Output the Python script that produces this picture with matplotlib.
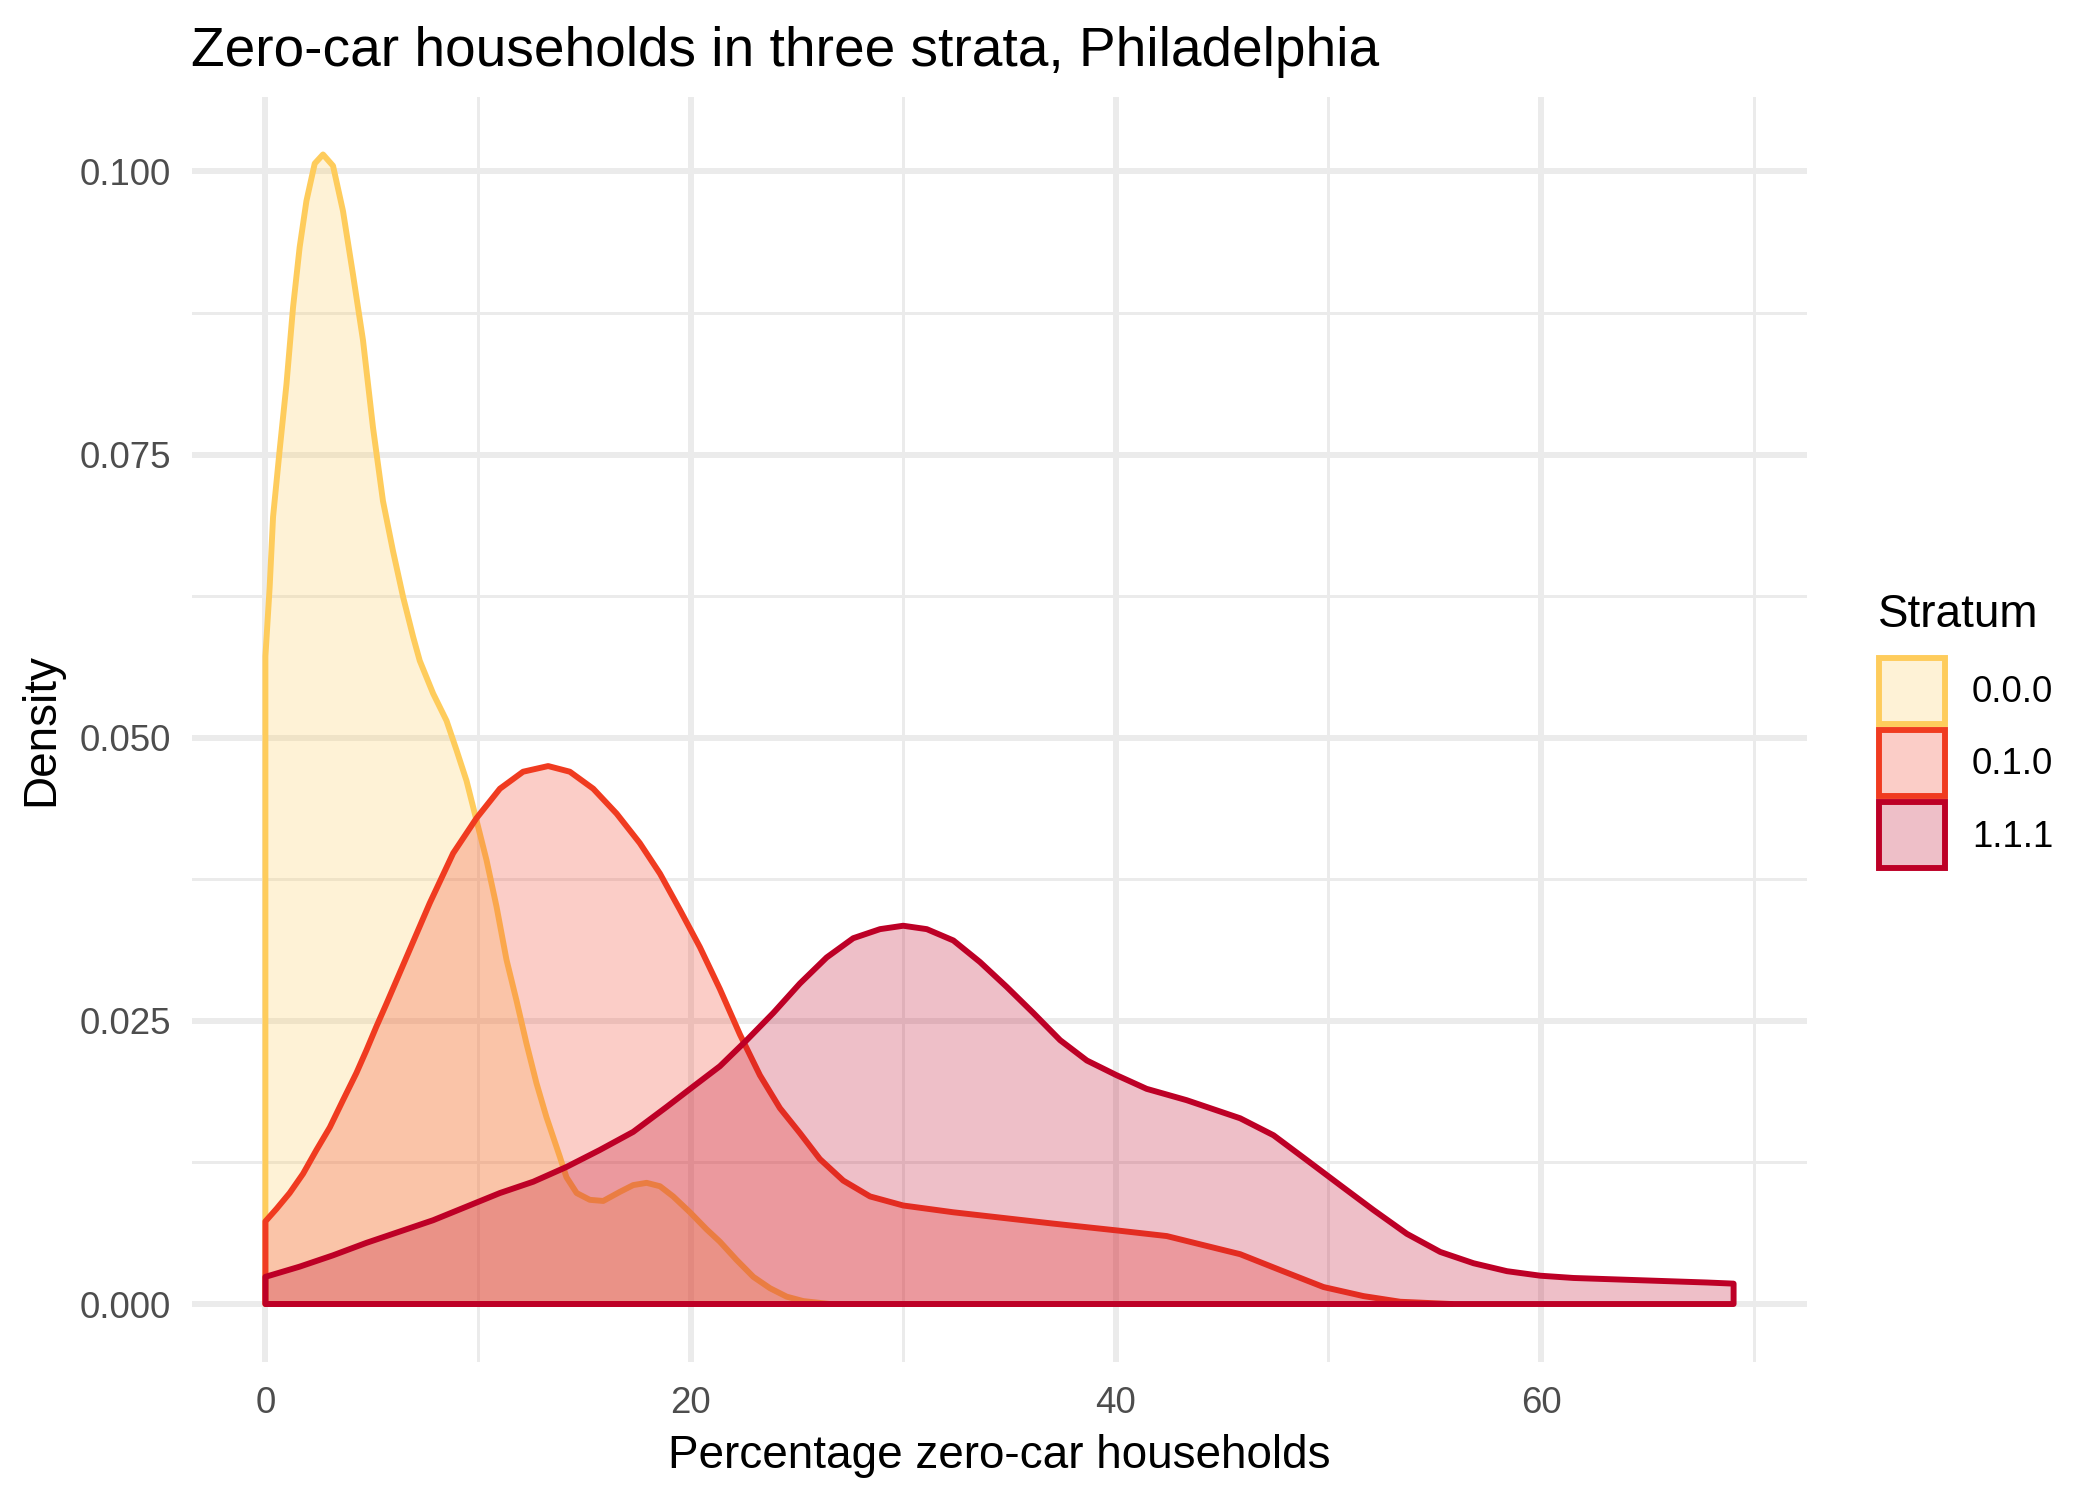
import matplotlib
matplotlib.use("Agg")
import matplotlib.pyplot as plt
from matplotlib.patches import Rectangle

plt.rcParams['font.family'] = ['Liberation Sans', 'DejaVu Sans']

# Density curves (x = % zero-car households, y = density)
x_000 = [0.0, 0.2, 0.36, 0.67, 0.99, 1.3, 1.61, 1.93, 2.32, 2.71, 3.18, 3.65, 4.12, 4.59,
         5.06, 5.53, 6.0, 6.48, 6.95, 7.26, 7.89, 8.52, 8.99, 9.46, 9.93, 10.4, 10.87,
         11.34, 11.81, 12.28, 12.75, 13.22, 13.85, 14.16, 14.64, 15.26, 15.89, 16.67,
         17.3, 17.93, 18.56, 19.18, 19.97, 20.75, 21.38, 22.16, 22.95, 23.73, 24.52,
         25.3, 26.55]
y_000 = [0.0572, 0.0633, 0.0695, 0.0754, 0.0812, 0.0880, 0.0933, 0.0974, 0.1007, 0.1015,
         0.1005, 0.0965, 0.0909, 0.0851, 0.0774, 0.0709, 0.0665, 0.0624, 0.0589, 0.0568,
         0.0539, 0.0515, 0.0489, 0.0462, 0.0427, 0.0392, 0.0351, 0.0304, 0.0268, 0.0230,
         0.0195, 0.0165, 0.0130, 0.0112, 0.0098, 0.0092, 0.0091, 0.0099, 0.0105, 0.0107,
         0.0104, 0.0095, 0.0081, 0.0066, 0.0055, 0.0039, 0.0024, 0.0014, 0.00065,
         0.00026, 0.0]

x_010 = [0.0, 0.52, 1.14, 1.77, 2.4, 3.03, 3.65, 4.28, 4.75, 5.22, 5.69, 6.63, 7.73, 8.83,
         9.93, 11.03, 12.12, 13.3, 14.32, 15.42, 16.52, 17.61, 18.56, 19.5, 20.44, 21.38,
         22.32, 23.26, 24.2, 25.14, 26.08, 27.18, 28.44, 30.0, 32.36, 34.71, 37.06, 40.04,
         42.4, 44.12, 45.85, 47.73, 49.77, 51.65, 53.38, 55.8]
y_010 = [0.0073, 0.0084, 0.0098, 0.0115, 0.0136, 0.0156, 0.0180, 0.0204, 0.0224, 0.0245,
         0.0265, 0.0306, 0.0354, 0.0398, 0.0429, 0.0455, 0.0470, 0.0475, 0.0470, 0.0455,
         0.0433, 0.0407, 0.0380, 0.0348, 0.0315, 0.0278, 0.0238, 0.0202, 0.0173, 0.0151,
         0.0128, 0.0109, 0.0095, 0.0087, 0.0081, 0.0076, 0.0071, 0.0065, 0.0060, 0.0052,
         0.0044, 0.0030, 0.0015, 0.0007, 0.0002, 0.0]

x_111 = [0.0, 1.61, 3.18, 4.75, 6.32, 7.89, 9.46, 11.03, 12.6, 14.16, 15.73, 17.3, 18.87,
         20.12, 21.38, 22.64, 23.89, 25.14, 26.4, 27.65, 28.91, 30.0, 31.11, 32.36, 33.61,
         34.87, 36.12, 37.38, 38.64, 40.04, 41.45, 43.33, 45.85, 47.42, 48.99, 50.55,
         52.12, 53.69, 55.26, 56.83, 58.4, 59.97, 61.53, 64.67, 67.81, 69.06]
y_111 = [0.0024, 0.0033, 0.0043, 0.0054, 0.0064, 0.0074, 0.0086, 0.0098, 0.0108, 0.0121,
         0.0136, 0.0152, 0.0174, 0.0192, 0.0210, 0.0233, 0.0257, 0.0283, 0.0306, 0.0323,
         0.0331, 0.0334, 0.0331, 0.0321, 0.0302, 0.0280, 0.0257, 0.0233, 0.0215, 0.0202,
         0.0190, 0.0180, 0.0164, 0.0149, 0.0127, 0.0105, 0.0083, 0.0062, 0.0046, 0.0036,
         0.0029, 0.0025, 0.0023, 0.0021, 0.0019, 0.0018]

strata = ['0.0.0', '0.1.0', '1.1.1']
colors = ['#FECC5C', '#F03B20', '#BD0026']
curves = [(x_000, y_000), (x_010, y_010), (x_111, y_111)]

x_major = [0, 20, 40, 60]
x_minor = [10, 30, 50, 70]
y_major = [0.0, 0.025, 0.05, 0.075, 0.1]
y_minor = [0.0125, 0.0375, 0.0625, 0.0875]
y_labels = ['0.000', '0.025', '0.050', '0.075', '0.100']

W, H = 2100, 1500
fig = plt.figure(figsize=(7, 5), dpi=300)
ax = fig.add_axes([192 / W, 1 - 1361.5 / H, (1807 - 192) / W, (1361.5 - 97) / H])

lw = 1.42
grid = '#EBEBEB'
for v in x_minor:
    ax.axvline(v, color=grid, lw=lw / 2, zorder=0)
for v in y_minor:
    ax.axhline(v, color=grid, lw=lw / 2, zorder=0)
for v in x_major:
    ax.axvline(v, color=grid, lw=lw, zorder=0)
for v in y_major:
    ax.axhline(v, color=grid, lw=lw, zorder=0)

# each density is a closed polygon, outline drawn all round (like ggplot)
for i, ((xs, ys), c) in enumerate(zip(curves, colors)):
    px = list(xs) + [xs[-1], xs[0]]
    py = list(ys) + [0.0, 0.0]
    ax.fill(px, py, facecolor=matplotlib.colors.to_rgba(c, 0.25), edgecolor=c,
            lw=lw, joinstyle='round', zorder=2 + i)

ax.set_xlim(-3.453, 72.513)
ax.set_ylim(-0.005075, 0.106575)
ax.set_xticks(x_major)
ax.set_yticks(y_major)
ax.set_yticklabels(y_labels)
ax.tick_params(length=0, labelsize=8.8, labelcolor='#4D4D4D')
ax.tick_params(axis='y', pad=5.0)
ax.tick_params(axis='x', pad=5.8)
for s in ax.spines.values():
    s.set_visible(False)

fig.text(191 / W, 1 - 66 / H, 'Zero-car households in three strata, Philadelphia',
         fontsize=13.2, ha='left', va='baseline')
fig.text((192 + 1807) / 2 / W, 1 - 1456 / H, 'Percentage zero-car households',
         fontsize=11, ha='center', va='center')
fig.text(41 / W, 1 - 729 / H, 'Density', fontsize=11, rotation=90,
         ha='center', va='center')

# legend
fig.text(1878 / W, 1 - 627 / H, 'Stratum', fontsize=11, ha='left', va='baseline')
key_y = [691, 763, 835]
for lab, c, ky in zip(strata, colors, key_y):
    fig.patches.append(Rectangle(((1912 - 33) / W, 1 - (ky + 33) / H), 66 / W, 66 / H,
                                 transform=fig.transFigure,
                                 facecolor=matplotlib.colors.to_rgba(c, 0.25),
                                 edgecolor=c, lw=lw))
    fig.text(1972 / W, 1 - (ky + 2) / H, lab, fontsize=8.8, ha='left', va='center')

fig.savefig('out.png', dpi=300, facecolor='white')
